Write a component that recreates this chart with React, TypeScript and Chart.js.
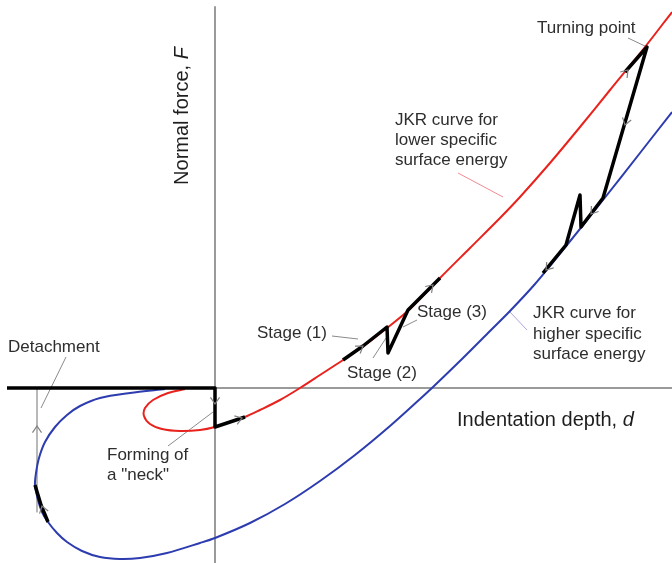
import React, { useEffect, useRef } from "react";
import { Chart, registerables } from "chart.js";

Chart.register(...registerables);

type P = [number, number];

// Data coordinates: d (indentation depth) horizontally, F (normal force) vertically, arbitrary units
const redCurve: P[] = [
  [-30, -1], [-47, -5], [-62, -12], [-70, -20], [-71, -28], [-65, -36], [-53, -41], [-35, -43],
  [-15, -42], [0, -39], [15, -34], [30, -29], [45, -22], [65, -12], [85, 0], [105, 13], [128, 28],
  [150, 43], [172, 60], [195, 79], [225, 110], [255, 140], [285, 170], [305, 191], [335, 225],
  [365, 261], [395, 298], [430, 341], [457, 376],
];

const blueCurve: P[] = [
  [-50, -1], [-85, -5], [-115, -10], [-135, -18], [-148, -27], [-160, -39], [-170, -54], [-176, -70],
  [-179, -85], [-180, -97], [-177, -112], [-173, -124], [-167, -134], [-158, -145], [-148, -154],
  [-133, -163], [-115, -169], [-95, -171], [-75, -170], [-48, -165], [-15, -155], [0, -150],
  [35, -135], [70, -116], [105, -93], [140, -67], [175, -38], [205, -11], [218, 1], [248, 30],
  [275, 57], [295, 77], [320, 104], [352, 143], [388, 188], [425, 235], [457, 276],
];

const pathNeck: P[] = [[-208, 0], [0, 0], [0, -39], [30, -29]];
const pathStages: P[] = [[128, 28], [148, 42], [172, 61], [173, 35], [193, 78], [225, 110]];
const pathUnload: P[] = [[410, 316], [432, 341], [388, 190], [366, 161], [365, 193], [351, 143], [328, 115]];
const pathDetach: P[] = [[-180, -97], [-174, -117], [-167, -134]];

const jumpLine: P[] = [[-178, 0], [-178, -124]];
const axisF: P[] = [[0, 381], [0, -175]];
const axisD: P[] = [[0, 0], [457, 0]];

const pointerDetach: P[] = [[-149, 31], [-174, -20]];
const pointerNeck: P[] = [[-2, -24], [-47, -58]];
const pointerStage1: P[] = [[117, 52], [143, 49]];
const pointerStage2: P[] = [[158, 30], [171, 50]];
const pointerStage3: P[] = [[202, 68], [188, 61]];
const pointerTurning: P[] = [[413, 350], [432, 341]];
const pointerLower: P[] = [[243, 215], [288, 191]];
const pointerHigher: P[] = [[295, 76], [312, 58]];

// arrow marks: [d, F, direction d, direction F]
const arrowMarks: [number, number, number, number][] = [
  [0, -16, 0, -1],
  [27, -30, 3, 1],
  [148, 42, 1, 0.7],
  [218, 103, 1, 1],
  [413, 318, 1, 1.15],
  [410, 263, -0.29, -1],
  [376, 174, -1, -1.3],
  [331, 118, -1, -1.2],
  [-178, -38, 0, 1],
  [-173, -118, -0.3, 1],
];

// labels
const labelTexts: string[] = [
  "Detachment", "Forming of", 'a "neck"', "Stage (1)", "Stage (2)", "Stage (3)", "Turning point",
  "JKR curve for", "lower specific", "surface energy",
  "JKR curve for", "higher specific", "surface energy",
];
const labelD: number[] = [-207, -108, -108, 42, 132, 202, 322, 180, 180, 180, 318, 318, 318];
const labelF: number[] = [41, -67, -87, 55, 15, 76, 360, 268, 248, 228, 75, 54, 34];

const RED = "#e8231d";
const BLUE = "#2d3cae";
const FONT = "'Liberation Sans', Arial, sans-serif";

const overlay = {
  id: "overlay",
  afterDatasetsDraw(chart: any) {
    const { ctx, scales } = chart;
    const sx = scales.x, sy = scales.y;
    ctx.save();
    ctx.strokeStyle = "#808080";
    ctx.lineWidth = 1.2;
    arrowMarks.forEach(([d, f, vx, vy]) => {
      const cx = sx.getPixelForValue(d);
      const cy = sy.getPixelForValue(f);
      const ang = Math.atan2(-vy, vx);
      const len = 8;
      const spread = 0.6;
      ctx.beginPath();
      ctx.moveTo(cx - len * Math.cos(ang - spread), cy - len * Math.sin(ang - spread));
      ctx.lineTo(cx, cy);
      ctx.lineTo(cx - len * Math.cos(ang + spread), cy - len * Math.sin(ang + spread));
      ctx.stroke();
    });
    ctx.fillStyle = "#2e2e2e";
    ctx.font = `17px ${FONT}`;
    ctx.textBaseline = "middle";
    ctx.textAlign = "left";
    labelTexts.forEach((t, i) => {
      ctx.fillText(t, sx.getPixelForValue(labelD[i]), sy.getPixelForValue(labelF[i]));
    });
    ctx.fillStyle = "#1e1e1e";
    ctx.font = `20px ${FONT}`;
    const xl = sx.getPixelForValue(242);
    const yl = sy.getPixelForValue(-32);
    const base = "Indentation depth, ";
    ctx.fillText(base, xl, yl);
    const w = ctx.measureText(base).width;
    ctx.font = `italic 20px ${FONT}`;
    ctx.fillText("d", xl + w, yl);
    ctx.save();
    ctx.translate(sx.getPixelForValue(-33), sy.getPixelForValue(272));
    ctx.rotate(-Math.PI / 2);
    ctx.font = `20px ${FONT}`;
    const b2 = "Normal force, ";
    const w2 = ctx.measureText(b2).width;
    ctx.font = `italic 20px ${FONT}`;
    const w3 = ctx.measureText("F").width;
    const start = -(w2 + w3) / 2;
    ctx.font = `20px ${FONT}`;
    ctx.fillText(b2, start, 0);
    ctx.font = `italic 20px ${FONT}`;
    ctx.fillText("F", start + w2, 0);
    ctx.restore();
    ctx.restore();
  },
};

function line(pts: P[], color: string, width: number, order: number, tension = 0) {
  return {
    data: pts.map(([x, y]) => ({ x, y })),
    showLine: true,
    borderColor: color,
    backgroundColor: color,
    borderWidth: width,
    pointRadius: 0,
    tension,
    order,
    clip: false as any,
    borderJoinStyle: "round" as const,
    borderCapStyle: "butt" as const,
  };
}

export default function App() {
  const ref = useRef<HTMLCanvasElement>(null);
  useEffect(() => {
    document.body.style.margin = "0";
    const canvas = ref.current!;
    const chart = new Chart(canvas, {
      type: "scatter",
      data: {
        datasets: [
          line(pathNeck, "#000", 3.5, 0),
          line(pathStages, "#000", 3.5, 0),
          line(pathUnload, "#000", 3.5, 0),
          line(pathDetach, "#000", 3.5, 0),
          line(redCurve, RED, 2, 1, 0.3),
          line(blueCurve, BLUE, 2, 1, 0.3),
          line(jumpLine, "#8a8a8a", 1.2, 2),
          line(axisF, "#9a9a9a", 2, 3),
          line(axisD, "#9a9a9a", 2, 3),
          line(pointerDetach, "#8a8a8a", 1, 2),
          line(pointerNeck, "#8a8a8a", 1, 2),
          line(pointerStage1, "#8a8a8a", 1, 2),
          line(pointerStage2, "#8a8a8a", 1, 2),
          line(pointerStage3, "#8a8a8a", 1, 2),
          line(pointerTurning, "#8a8a8a", 1, 2),
          line(pointerLower, "#f08a94", 1, 2),
          line(pointerHigher, "#a9a6dc", 1, 2),
        ] as any,
      },
      options: {
        animation: false,
        responsive: false,
        events: [],
        layout: { padding: 0 },
        plugins: { legend: { display: false }, tooltip: { enabled: false } },
        scales: {
          x: { type: "linear", min: -215, max: 457, display: false },
          y: { type: "linear", min: -175, max: 388, display: false },
        },
      },
      plugins: [overlay],
    });
    return () => chart.destroy();
  }, []);
  return (
    <canvas ref={ref} width={672} height={563} style={{ display: "block", width: 672, height: 563 }} />
  );
}
